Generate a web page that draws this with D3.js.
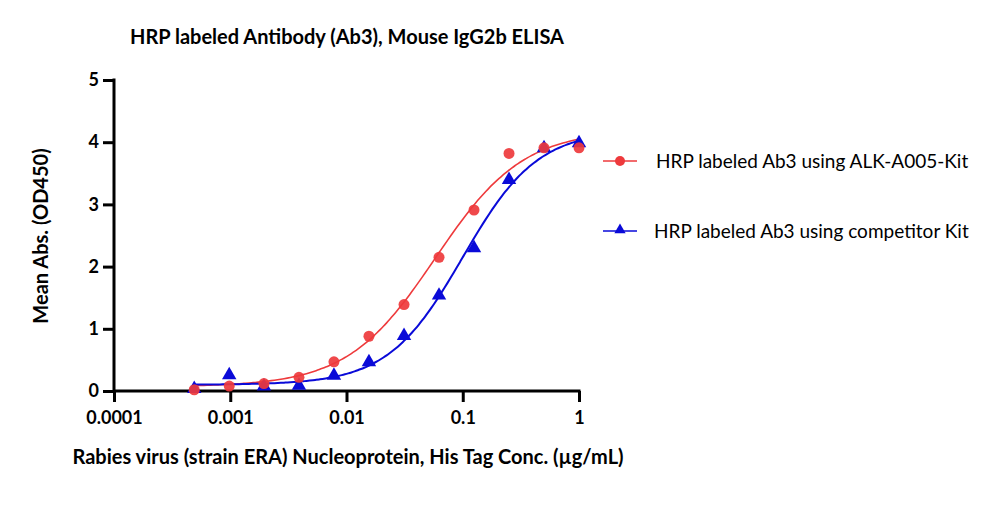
<!DOCTYPE html>
<html>
<head>
<meta charset="utf-8">
<title>HRP labeled Antibody ELISA</title>
<script src="https://d3js.org/d3.v7.min.js"></script>
<style>
    body { margin: 0; background: #fff; }
    svg { display: block; }
    text { font-family: Lato, "Open Sans", sans-serif; fill: #000; }
</style>
</head>
<body>
<script>
// concentrations (ug/mL), 2-fold serial dilution
var conc = [0.00049, 0.00098, 0.00195, 0.0039, 0.0078, 0.0156, 0.03125, 0.0625, 0.125, 0.25, 0.5, 1];
var alkValues = [0.02, 0.08, 0.12, 0.22, 0.47, 0.88, 1.39, 2.15, 2.91, 3.82, 3.91, 3.91];
var compValues = [0.02, 0.24, 0.06, 0.07, 0.23, 0.45, 0.87, 1.52, 2.28, 3.38, 3.89, 3.97];
// 4PL fit parameters: bottom, top, EC50, hill
var alkFit = [0.07, 4.2, 0.058, 1.15];
var compFit = [0.1, 4.2, 0.1, 1.35];
var xTicks = [0.0001, 0.001, 0.01, 0.1, 1];
var xTickLabels = ["0.0001", "0.001", "0.01", "0.1", "1"];
var yTicks = [0, 1, 2, 3, 4, 5];
var seriesNames = ["HRP labeled Ab3 using ALK-A005-Kit", "HRP labeled Ab3 using competitor Kit"];

var w = 1000, h = 518;
var red = "#ee3a3c", blue = "#0a0ad8";

var svg = d3.select("body").append("svg").attr("width", w).attr("height", h);

var x = d3.scaleLog().domain([0.0001, 1]).range([114, 579]);
var y = d3.scaleLinear().domain([0, 5]).range([391, 80]);

// title
svg.append("text").attr("x", 347).attr("y", 44).attr("text-anchor", "middle")
    .style("font-size", "20px").style("font-weight", "bold")
    .text("HRP labeled Antibody (Ab3), Mouse IgG2b ELISA");

// axes
var xAxis = d3.axisBottom(x).tickValues(xTicks).tickSize(11)
    .tickFormat(function(d, i) { return xTickLabels[i]; });
var gx = svg.append("g").attr("transform", "translate(0," + y(0) + ")").call(xAxis);
gx.select(".domain").attr("stroke-width", 3).attr("d", "M" + x(0.0001) + ",0H" + (x(1) + 1.5));
gx.selectAll(".tick line").attr("stroke-width", 3);
gx.selectAll(".tick text").attr("dy", "1.05em").style("font-size", "18px").style("font-weight", "bold")
    .style("font-family", "Lato, sans-serif");

var yAxis = d3.axisLeft(y).tickValues(yTicks).tickSize(11).tickFormat(d3.format("d"));
var gy = svg.append("g").attr("transform", "translate(" + x(0.0001) + ",0)").call(yAxis);
gy.select(".domain").attr("stroke-width", 3).attr("d", "M0," + (y(5) - 1.5) + "V" + y(0));
gy.selectAll(".tick line").attr("stroke-width", 3);
gy.selectAll(".tick text").attr("x", -15).style("font-size", "18px").style("font-weight", "bold")
    .style("font-family", "Lato, sans-serif");

// axis titles
svg.append("text").attr("x", 348).attr("y", 464).attr("text-anchor", "middle")
    .style("font-size", "20px").style("font-weight", "bold")
    .text("Rabies virus (strain ERA) Nucleoprotein, His Tag Conc. (\u00b5g/mL)");
svg.append("text").attr("transform", "translate(48,236) rotate(-90)").attr("text-anchor", "middle")
    .style("font-size", "20px").style("font-weight", "bold")
    .text("Mean Abs. (OD450)");

// fitted curves
function fourPL(p) {
    return function(c) { return p[0] + (p[1] - p[0]) / (1 + Math.pow(p[2] / c, p[3])); };
}
var curveX = d3.range(0, 121).map(function(i) {
    return Math.pow(10, Math.log10(conc[0]) + i / 120 * (0 - Math.log10(conc[0])));
});
var line = d3.line().x(function(d) { return x(d[0]); }).y(function(d) { return y(d[1]); })
    .curve(d3.curveMonotoneX);

[[alkFit, red, 1.6], [compFit, blue, 2]].forEach(function(s) {
    var f = fourPL(s[0]);
    svg.append("path").datum(curveX.map(function(c) { return [c, f(c)]; }))
        .attr("fill", "none").attr("stroke", s[1]).attr("stroke-width", s[2]).attr("d", line);
});

var tri = d3.symbol().type(d3.symbolTriangle).size(90);

// points
svg.append("g").selectAll("path").data(compValues).enter().append("path")
    .attr("d", tri)
    .attr("transform", function(d, i) { return "translate(" + x(conc[i]) + "," + (y(d) - 1) + ")"; })
    .attr("fill", blue);
svg.append("g").selectAll("circle").data(alkValues).enter().append("circle")
    .attr("cx", function(d, i) { return x(conc[i]); })
    .attr("cy", function(d) { return y(d); })
    .attr("r", 5.5)
    .attr("fill", red).attr("fill-opacity", 0.92);

// legend
var legend = svg.append("g").selectAll("g").data(seriesNames).enter().append("g")
    .attr("transform", function(d, i) { return "translate(0," + (161 + i * 70) + ")"; });
legend.append("line").attr("x1", 603).attr("x2", 637)
    .attr("stroke", function(d, i) { return i === 0 ? red : blue; }).attr("stroke-width", 1.6);
legend.each(function(d, i) {
    var g = d3.select(this);
    if (i === 0) {
        g.append("circle").attr("cx", 620).attr("r", 5).attr("fill", red);
    } else {
        g.append("path").attr("d", d3.symbol().type(d3.symbolTriangle).size(55))
            .attr("transform", "translate(620,-1)").attr("fill", blue);
    }
});
legend.append("text").attr("x", function(d, i) { return i === 0 ? 656 : 654; }).attr("y", 7)
    .style("font-size", "19px")
    .text(function(d) { return d; });
</script>
</body>
</html>
